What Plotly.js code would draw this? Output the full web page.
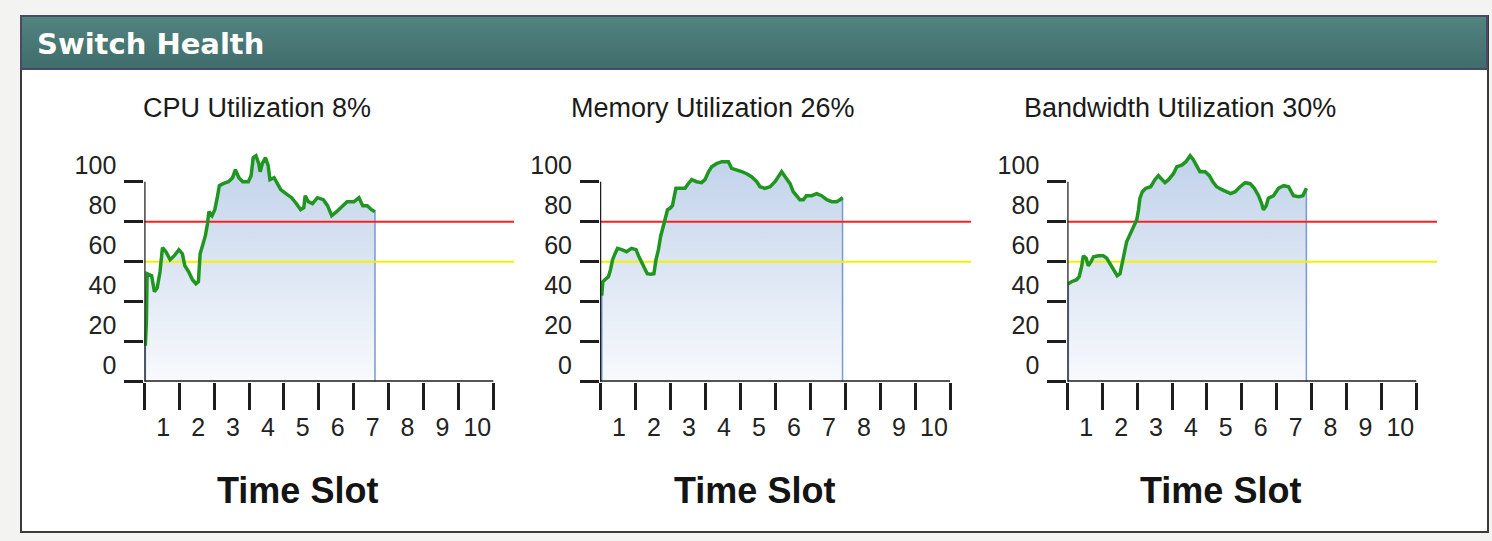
<!DOCTYPE html>
<html>
<head>
<meta charset="utf-8">
<script src="https://cdn.plot.ly/plotly-3.0.1.min.js"></script>
<style>
  html, body { margin:0; padding:0; background:#f3f3f1; width:1492px; height:541px; overflow:hidden; }
  #panel { position:absolute; left:20px; top:15px; width:1465px; height:514px; background:#ffffff; border:2px solid #3a3a3a; box-sizing:content-box; }
  #header { position:absolute; left:20px; top:15px; width:1468px; height:55px; background:linear-gradient(#52837f, #3f6d6b); border:2px solid #4a4a66; box-sizing:border-box; }
  #chart { position:absolute; left:0; top:0; width:1492px; height:541px; }
</style>
</head>
<body>
<div id="panel"></div>
<div id="header"></div>
<div id="chart"></div>
<script>
// ---- data ----
const panelTitle = "Switch Health";
const chartTitles = ["CPU Utilization 8%", "Memory Utilization 26%", "Bandwidth Utilization 30%"];
const xAxisTitle = "Time Slot";
const timeSlotVals = [0,1,2,3,4,5,6,7,8,9,10];
const timeSlotLabels = ["","1","2","3","4","5","6","7","8","9","10"];
const yTickVals = [0,20,40,60,80,100];
const yTickLabels = ["0","20","40","60","80","100"];
const thresholdHigh = 80;
const thresholdWarn = 60;

const cpuX = [0.03,0.06,0.08,0.21,0.29,0.37,0.45,0.52,0.62,0.74,0.86,0.99,1.09,1.16,1.27,1.38,1.48,1.55,1.60,1.67,1.75,1.81,1.85,1.94,2.02,2.09,2.15,2.26,2.41,2.53,2.61,2.71,2.82,2.98,3.06,3.12,3.20,3.28,3.32,3.38,3.47,3.55,3.60,3.72,3.81,3.91,4.06,4.22,4.36,4.48,4.57,4.61,4.70,4.82,4.96,5.13,5.25,5.37,5.51,5.68,5.81,6.01,6.15,6.26,6.39,6.51,6.61];
const cpuY = [18,30,54,53,45,47,55,67,65,61,63,66,64,58,55,51,49,50,64,68,73,79,85,83,86,92,98,99,100,102,106,102,100,100,103,112,113,109,105,109,112,108,101,102,99,96,94,92,89,86,87,93,90,89,92,91,88,83,85,88,90,90,92,88,88,86,85];

const memX = [0.05,0.08,0.14,0.24,0.30,0.36,0.43,0.50,0.62,0.76,0.90,1.03,1.10,1.19,1.29,1.35,1.45,1.54,1.60,1.67,1.73,1.81,1.88,1.93,2.00,2.07,2.11,2.17,2.29,2.43,2.52,2.62,2.76,2.90,3.00,3.10,3.19,3.33,3.48,3.67,3.76,3.90,4.05,4.19,4.33,4.48,4.57,4.71,4.86,5.00,5.10,5.19,5.29,5.43,5.52,5.62,5.71,5.81,5.90,6.05,6.19,6.33,6.48,6.62,6.76,6.86,6.93];
const memY = [43,50,51,52.5,56,61,64,66.7,66,65,66.7,66,63,60,56.7,54,53.7,54,61,66,72.5,77.5,81.7,86,86.7,88,91.7,96.7,96.7,96.7,99,101,100,99.5,101,105,107.5,109,110,110,106.7,106,105,104,102.5,100,97.5,96.7,97.5,100,103,105,102.5,99,95,92.5,91,91,93,93,94,93,91,90,90,91,92];

const bwX = [0.03,0.12,0.27,0.34,0.41,0.46,0.54,0.60,0.68,0.75,0.89,1.03,1.13,1.22,1.32,1.43,1.51,1.56,1.63,1.70,1.78,1.85,1.91,1.99,2.04,2.08,2.15,2.25,2.39,2.51,2.61,2.71,2.80,2.90,3.04,3.14,3.28,3.40,3.52,3.61,3.71,3.80,3.95,4.07,4.17,4.28,4.43,4.57,4.68,4.81,4.95,5.10,5.24,5.36,5.48,5.57,5.62,5.70,5.76,5.91,6.05,6.20,6.34,6.48,6.63,6.75,6.85];
const bwY = [49,50,51,52.5,57.5,63,61.7,58,60,62.5,63,63,61.7,59,56.7,53,54,59,64,70,73,76,78,81,86,91.7,95,96.7,97.5,101,103,101,99.5,101,104,107.5,108.3,110,113,111,107.5,105,105,103,100,97.5,96,95,94,95,97.5,99.5,99,96.7,93,89,86,88,91.7,93,96.7,98,97.5,93,92.5,93,96.7];

const series = [[cpuX, cpuY], [memX, memY], [bwX, bwY]];

// ---- layout geometry (pixels) ----
const W = 1492, H = 541;
const xZeroPx = [144.3, 600, 1067.3];
const pxPerUnit = [34.9, 35.0, 34.9];
const xMax = 10.6;
const yMax = 125;
const yZeroPx = 381.7, yPxPerUnit = 2.0;

const fontFamily = "Liberation Sans, Arial, Helvetica, sans-serif";
const traces = [];
const shapes = [];
const annotations = [];
const layout = {
  width: W, height: H,
  margin: {l:0, r:0, t:0, b:0, pad:0},
  paper_bgcolor: "rgba(0,0,0,0)",
  plot_bgcolor: "rgba(0,0,0,0)",
  showlegend: false,
  hovermode: false,
  title: {
    text: "<b>" + panelTitle + "</b>",
    x: 37 / W, xanchor: "left", xref: "paper",
    y: 1 - 44 / H, yanchor: "middle", yref: "container",
    font: {family: "DejaVu Sans, Verdana, sans-serif", size: 29, color: "#ffffff"}
  }
};

for (let i = 0; i < 3; i++) {
  const sx = i === 0 ? "" : String(i + 1);
  const xa = "x" + sx, ya = "y" + sx;
  const [xs, ys] = series[i];
  const x0 = xZeroPx[i];
  const x1 = x0 + xMax * pxPerUnit[i];
  const yBot = yZeroPx, yTop = yZeroPx - yMax * yPxPerUnit;

  layout["xaxis" + sx] = {
    domain: [x0 / W, x1 / W], range: [0, xMax], anchor: ya,
    showgrid: false, zeroline: false, showline: false, fixedrange: true,
    tickmode: "array", tickvals: timeSlotVals, ticktext: timeSlotLabels,
    ticks: "outside", ticklen: 27, tickwidth: 3, tickcolor: "#1e1e1e",
    ticklabelshift: -16, ticklabelstandoff: -4,
    tickfont: {family: fontFamily, size: 25, color: "#222222"}
  };
  layout["yaxis" + sx] = {
    domain: [(H - yBot) / H, (H - yTop) / H], range: [0, yMax], anchor: xa,
    showgrid: false, zeroline: false, showline: false, fixedrange: true,
    tickmode: "array", tickvals: yTickVals, ticktext: yTickLabels,
    ticks: "outside", ticklen: 19, tickwidth: 3, tickcolor: "#1e1e1e",
    ticklabelshift: -16, ticklabelstandoff: 3,
    tickfont: {family: fontFamily, size: 25, color: "#222222"}
  };

  // filled area under the series
  const fx = [xs[0]].concat(xs, [xs[xs.length - 1]]);
  const fy = [0].concat(ys, [0]);
  traces.push({
    type: "scatter", mode: "lines", x: fx, y: fy, xaxis: xa, yaxis: ya,
    fill: "toself",
    fillgradient: {type: "vertical", start: 0, stop: 110,
      colorscale: [[0, "#f8fafd"], [1, "#c2d3ea"]]},
    line: {color: "#7a98d2", width: 1.5}
  });
  // thresholds
  traces.push({type: "scatter", mode: "lines", x: [0, xMax], y: [thresholdHigh, thresholdHigh],
    xaxis: xa, yaxis: ya, line: {color: "#ff1f1f", width: 2}});
  traces.push({type: "scatter", mode: "lines", x: [0, xMax], y: [thresholdWarn, thresholdWarn],
    xaxis: xa, yaxis: ya, line: {color: "#f2f200", width: 2}});
  // series line
  traces.push({type: "scatter", mode: "lines", x: xs, y: ys, xaxis: xa, yaxis: ya,
    line: {color: "#1f961f", width: 3.5}});

  // axis lines
  shapes.push({type: "line", xref: xa, yref: ya, x0: 0, x1: 10, y0: 0, y1: 0,
    line: {color: "#1e1e1e", width: 3}, layer: "above"});
  shapes.push({type: "line", xref: xa, yref: ya, x0: 0, x1: 0, y0: 0, y1: 100,
    line: {color: "#1e1e1e", width: 2.5}, layer: "above"});

  annotations.push({text: chartTitles[i], xref: xa, yref: "paper", x: 3.22, y: 1 - 108 / H,
    xanchor: "center", yanchor: "middle", showarrow: false,
    font: {family: fontFamily, size: 27, color: "#1a1a1a"}});
  annotations.push({text: "<b>" + xAxisTitle + "</b>", xref: xa, yref: "paper", x: 4.4, y: 1 - 490 / H,
    xanchor: "center", yanchor: "middle", showarrow: false,
    font: {family: fontFamily, size: 36, color: "#141414"}});
}
layout.shapes = shapes;
layout.annotations = annotations;

Plotly.newPlot("chart", traces, layout, {displayModeBar: false, staticPlot: true});
</script>
</body>
</html>
